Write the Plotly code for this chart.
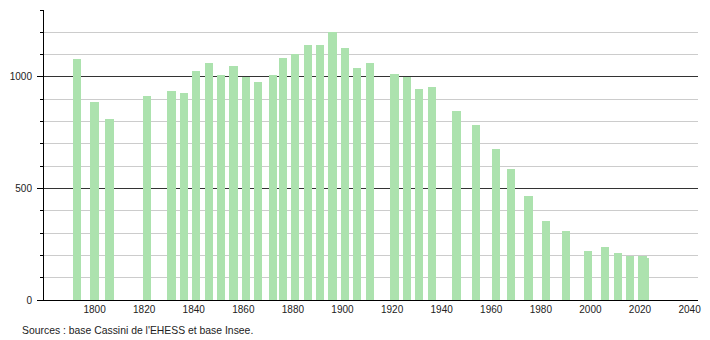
import plotly.graph_objects as go

years = [1793, 1800, 1806, 1821, 1831, 1836, 1841, 1846, 1851, 1856,
         1861, 1866, 1872, 1876, 1881, 1886, 1891, 1896, 1901, 1906,
         1911, 1921, 1926, 1931, 1936, 1946, 1954, 1962, 1968, 1975,
         1982, 1990, 1999, 2006, 2011, 2016, 2021, 2022]
population = [1081, 888, 813, 916, 938, 929, 1028, 1061, 1009, 1047,
              1000, 979, 1009, 1085, 1105, 1141, 1141, 1202, 1130, 1040,
              1064, 1015, 998, 947, 955, 849, 784, 677, 587, 468,
              355, 310, 220, 238, 211, 198, 198, 190]

x_ticks = list(range(1800, 2041, 20))
y_major = [0, 500, 1000]
source_text = "Sources : base Cassini de l'EHESS et base Insee."

fig = go.Figure()
fig.add_trace(go.Bar(
    x=years, y=population, width=3.3,
    marker=dict(color="rgb(172,226,174)", line=dict(width=0)),
    hoverinfo="x+y",
))

fig.update_layout(
    width=710, height=340,
    margin=dict(l=44, r=9, t=10, b=40),
    plot_bgcolor="white", paper_bgcolor="white",
    showlegend=False,
    font=dict(family="Liberation Sans, Arial, sans-serif", size=10, color="#222"),
    bargap=0,
    xaxis=dict(
        range=[1779.6, 2043.4],
        tickvals=x_ticks,
        ticks="", showgrid=False, zeroline=False,
        showline=True, linecolor="black", linewidth=1,
        tickfont=dict(size=10, color="#222"),
    ),
    yaxis=dict(
        range=[0, 1300],
        tickvals=y_major,
        ticks="outside", ticklen=6, tickcolor="black", tickwidth=1,
        showgrid=True, gridcolor="#333333", gridwidth=1,
        zeroline=False,
        showline=True, linecolor="black", linewidth=1,
        ticklabelstandoff=3,
        tickfont=dict(size=10, color="#222"),
        minor=dict(dtick=100, tick0=0, ticks="outside", ticklen=3,
                   tickcolor="black", showgrid=True, gridcolor="#cccccc", gridwidth=1),
    ),
    annotations=[dict(
        text=source_text, xref="paper", yref="paper",
        x=-24 / 657, y=-30 / 290, xanchor="left", yanchor="middle",
        showarrow=False, font=dict(size=10.4, color="#222"),
    )],
)

fig.write_html("out.html")
